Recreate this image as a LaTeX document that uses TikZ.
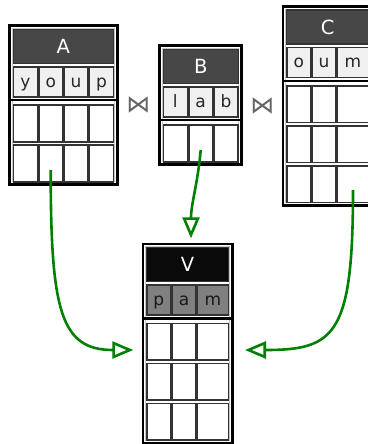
\documentclass[tikz,border=0pt]{standalone}
\usepackage{fontspec}
\setmainfont{DejaVu Sans}
\usetikzlibrary{arrows.meta, positioning, calc}

\definecolor{headgray}{HTML}{474747}
\definecolor{headblack}{HTML}{0A0A0A}
\definecolor{attrgray}{HTML}{F0F0F0}
\definecolor{viewgray}{HTML}{808080}
\definecolor{celledge}{HTML}{333333}
\definecolor{flowgreen}{HTML}{008000}

\begin{document}
\begin{tikzpicture}[
    x=1pt, y=1pt,
    every node/.style={inner sep=0pt, outer sep=0pt},
    frame/.style={rectangle, draw=black, line width=2.8pt, fill=white, anchor=north west,
        path picture={\draw[gray!45, line width=1pt] ([shift={(3pt,-3pt)}]path picture bounding box.north west) rectangle ([shift={(-3pt,3pt)}]path picture bounding box.south east);}},
    head/.style={rectangle, draw=celledge, line width=1.2pt, fill=headgray, text=white, minimum height=34pt, anchor=north west, font=\fontsize{19.5}{22}\selectfont},
    attr/.style={rectangle, draw=celledge, line width=1.6pt, fill=attrgray, text=black!85, minimum height=30pt, anchor=north west, text height=12pt, text depth=1pt, font=\fontsize{17}{19}\selectfont},
    datacell/.style={rectangle, draw=celledge, line width=1.6pt, fill=white, minimum height=36.7pt, anchor=north west},
    sepline/.style={draw=black, line width=2.2pt},
    joinmark/.style={text=black!60, font=\fontsize{24}{24}\selectfont},
    flow/.style={draw=flowgreen, line width=2.6pt, -{Triangle[open, length=21pt, width=17pt]}}
]
\path[use as bounding box, fill=white] (0,0) rectangle (367,-444);

% TABLE A
\node[frame, minimum width=107.7pt, minimum height=159.2pt] (A) at (9.55,-25.55) {};
\node[head, minimum width=100.2pt] (A-h) at ([shift={(3.75pt,-3.75pt)}]A.north west) {A};
\foreach \t/\dx/\w [count=\i] in {y/0/24, o/25.4/24, u/50.8/24, p/76.2/24}
    \node[attr, minimum width=\w pt] (A-a\i) at ([xshift=\dx pt, yshift=-3.4pt]A-h.south west) {\t};
\draw[sepline] ($(A-a1.south -| A.west)+(0,-3.3)$) -- ($(A-a1.south -| A.east)+(0,-3.3)$);
\foreach \r [evaluate=\r as \dy using -8.3-(\r-1)*40] in {1,2}
    \foreach \dx/\w [count=\i] in {0/24, 25.4/24, 50.8/24, 76.2/24}
        \node[datacell, minimum width=\w pt] (A-\r-\i) at ([xshift=\dx pt, yshift=\dy pt]A-a1.south west) {};

% TABLE B
\node[frame, minimum width=82.3pt, minimum height=119.2pt] (B) at (159.55,-45.55) {};
\node[head, minimum width=74.8pt] (B-h) at ([shift={(3.75pt,-3.75pt)}]B.north west) {B};
\foreach \t/\dx/\w [count=\i] in {l/0/24, a/25.4/24, b/50.8/24}
    \node[attr, minimum width=\w pt] (B-a\i) at ([xshift=\dx pt, yshift=-3.4pt]B-h.south west) {\t};
\draw[sepline] ($(B-a1.south -| B.west)+(0,-3.3)$) -- ($(B-a1.south -| B.east)+(0,-3.3)$);
\foreach \r [evaluate=\r as \dy using -8.3-(\r-1)*40] in {1}
    \foreach \dx/\w [count=\i] in {0/24, 25.4/24, 50.8/24}
        \node[datacell, minimum width=\w pt] (B-\r-\i) at ([xshift=\dx pt, yshift=\dy pt]B-a1.south west) {};

% TABLE C
\node[frame, minimum width=89.3pt, minimum height=199.2pt] (C) at (282.95,-6.25) {};
\node[head, minimum width=81.8pt] (C-h) at ([shift={(3.75pt,-3.75pt)}]C.north west) {C};
\foreach \t/\dx/\w [count=\i] in {o/0/24, u/25.4/24, m/50.8/31}
    \node[attr, minimum width=\w pt] (C-a\i) at ([xshift=\dx pt, yshift=-3.4pt]C-h.south west) {\t};
\draw[sepline] ($(C-a1.south -| C.west)+(0,-3.3)$) -- ($(C-a1.south -| C.east)+(0,-3.3)$);
\foreach \r [evaluate=\r as \dy using -8.3-(\r-1)*40] in {1,2,3}
    \foreach \dx/\w [count=\i] in {0/24, 25.4/24, 50.8/31}
        \node[datacell, minimum width=\w pt] (C-\r-\i) at ([xshift=\dx pt, yshift=\dy pt]C-a1.south west) {};

% VIEW V
\node[frame, minimum width=89.3pt, minimum height=199.2pt] (V) at (142.95,-243.95) {};
\node[head, fill=headblack, minimum width=81.8pt] (V-h) at ([shift={(3.75pt,-3.75pt)}]V.north west) {V};
\foreach \t/\dx/\w [count=\i] in {p/0/24, a/25.4/24, m/50.8/31}
    \node[attr, fill=viewgray, text=black!90, minimum width=\w pt] (V-a\i) at ([xshift=\dx pt, yshift=-3.4pt]V-h.south west) {\t};
\draw[sepline] ($(V-a1.south -| V.west)+(0,-3.3)$) -- ($(V-a1.south -| V.east)+(0,-3.3)$);
\foreach \r [evaluate=\r as \dy using -8.3-(\r-1)*40] in {1,2,3}
    \foreach \dx/\w [count=\i] in {0/24, 25.4/24, 50.8/31}
        \node[datacell, minimum width=\w pt] (V-\r-\i) at ([xshift=\dx pt, yshift=\dy pt]V-a1.south west) {};

% JOINS
\node[joinmark] (jAB) at ($(A.east)!0.5!(B.west)$) {⋈};
\node[joinmark] (jBC) at ($(B.east)!0.5!(C.west)$) {⋈};

% ARROWS
\coordinate (outA) at ($(A-2-2.center)+(0,-6.6)$);
\coordinate (outB) at ($(B-1-2.center)+(0,-6.6)$);
\coordinate (outC) at ($(C-3-3.center)+(0,-6)$);
\coordinate (inA) at (133.3,-350);
\coordinate (inB) at (191,-238.3);
\coordinate (inC) at (245,-350);
\draw[flow] (outA) to[out=-90, in=180, out distance=140pt, in distance=73pt] (inA);
\draw[flow] (outB) to[out=-95, in=90] (inB);
\draw[flow] (outC) to[out=-90, in=0, out distance=145pt, in distance=90pt] (inC);

\end{tikzpicture}
\end{document}
